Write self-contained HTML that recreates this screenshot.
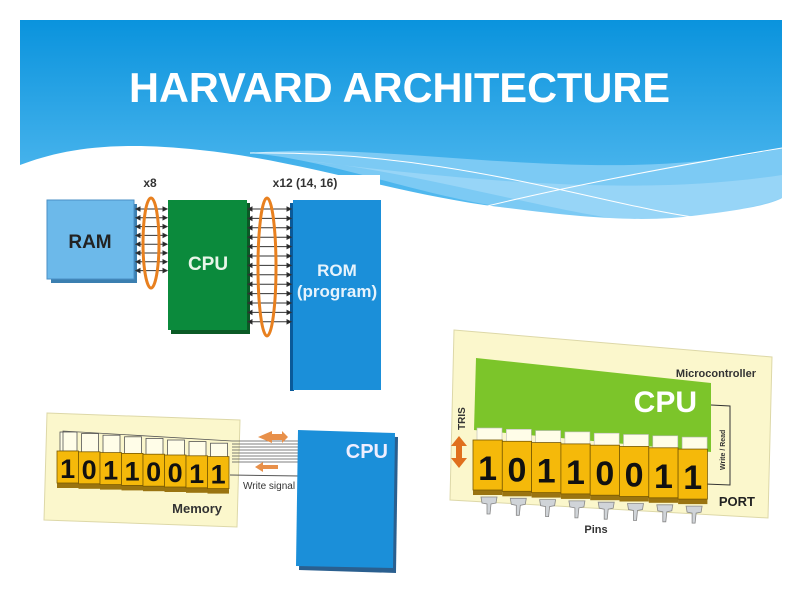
<!DOCTYPE html>
<html><head><meta charset="utf-8"><style>
html,body{margin:0;padding:0;width:800px;height:600px;overflow:hidden;background:#fff}
svg{display:block;font-family:"Liberation Sans",Arial,sans-serif}
</style></head><body>
<svg id="s" width="800" height="600" viewBox="0 0 800 600" xmlns="http://www.w3.org/2000/svg">
<defs>
<linearGradient id="bg" x1="0" y1="0" x2="0" y2="1">
<stop offset="0" stop-color="#0a93dd"/><stop offset="1" stop-color="#5fc0f2"/>
</linearGradient>
</defs>
<rect x="20" y="20" width="762" height="210" fill="url(#bg)"/>
<path d="M250,153 C400,140 600,190 782,148 L782,198 C700,225 600,225 500,207 C400,190 330,160 250,153Z" fill="#7ccaf4"/>
<path d="M300,160 C450,175 600,230 700,225 C740,220 770,205 782,198 L782,175 C650,195 500,185 300,160Z" fill="#9dd7f7" opacity="0.8"/>
<path d="M20,165 C60,150 110,140 200,150 C300,160 400,195 500,207 C600,220 650,222 700,215 C740,210 770,205 782,198 L782,240 L20,240Z" fill="#fff"/>
<path d="M250,153 C450,150 600,205 700,218" stroke="#fff" stroke-width="1" fill="none"/>
<path d="M450,215 C550,190 650,170 782,148" stroke="#fff" stroke-width="1" fill="none"/>
<text x="129" y="102" textLength="541" lengthAdjust="spacingAndGlyphs" font-size="42" font-weight="bold" fill="#fff">HARVARD ARCHITECTURE</text>

<!-- diagram 1 -->
<rect x="40" y="175" width="340" height="215" fill="#fff"/>
<text x="150" y="187" text-anchor="middle" font-size="12" font-weight="bold" fill="#333">x8</text>
<text x="305" y="187" text-anchor="middle" font-size="12" font-weight="bold" fill="#333">x12 (14, 16)</text>
<polygon points="51,204 137,204 137,283 51,283" fill="#3b7fb0"/>
<rect x="47" y="200" width="87" height="79" fill="#6cb9ea" stroke="#4a8fc5"/>
<text x="90" y="248" text-anchor="middle" font-size="19" font-weight="bold" fill="#222">RAM</text>
<rect x="171" y="203" width="79" height="131" fill="#0a5a25"/>
<rect x="168" y="200" width="79" height="130" fill="#0b8a3c"/>
<text x="208" y="270" text-anchor="middle" font-size="19" font-weight="bold" fill="#e8f5e8">CPU</text>
<rect x="290" y="203" width="4" height="188" fill="#0a5a9a"/>
<rect x="293" y="200" width="88" height="190" fill="#1b8fd9"/>
<text x="337" y="276" text-anchor="middle" font-size="17" font-weight="bold" fill="#e6f3fc">ROM</text>
<text x="337" y="297" text-anchor="middle" font-size="17" font-weight="bold" fill="#e6f3fc">(program)</text>
<g id="lines1" stroke="#333" stroke-width="1"></g>
<ellipse cx="151" cy="243" rx="8" ry="45" fill="none" stroke="#e8801f" stroke-width="3"/>
<ellipse cx="267" cy="267" rx="9" ry="69" fill="none" stroke="#e8801f" stroke-width="3"/>

<!-- diagram 3 -->
<polygon points="47,413 240,420 237,527 44,520" fill="#fbf7cc" stroke="#ddd8a8"/>
<g id="mem"></g>
<text x="222" y="513" text-anchor="end" font-size="13" font-weight="bold" fill="#333">Memory</text>
<g stroke="#555" stroke-width="0.8" id="bus3"></g>
<polygon points="258,437 272,431 272,434 282,434 282,431 288,437 282,443 282,440 272,440 272,443" fill="#e8904a"/>
<polygon points="255,467 263,462 263,465 278,465 278,469 263,469 263,472" fill="#e8904a"/>
<line x1="230" y1="475" x2="300" y2="476" stroke="#555"/>
<text x="243" y="489" font-size="10" fill="#333">Write signal</text>
<polygon points="301,434 398,437 396,573 299,570" fill="#2a5f8f"/>
<polygon points="298,430 395,433 393,568 296,566" fill="#1b8fd9"/>
<text x="388" y="458" text-anchor="end" font-size="20" font-weight="bold" fill="#eef">CPU</text>

<!-- diagram 2 -->
<polygon points="454,330 772,357 768,518 450,500" fill="#fbf7cc" stroke="#ddd8a8"/>
<polygon points="476,358 711,383 711,452 474,430" fill="#7cc52a"/>
<text x="697" y="412" text-anchor="end" font-size="30" font-weight="bold" fill="#fff">CPU</text>
<text x="756" y="377" text-anchor="end" font-size="11" font-weight="bold" fill="#333">Microcontroller</text>
<path d="M711,405 L730,406 L730,485 L705,484" fill="none" stroke="#333"/>
<text transform="translate(725,470) rotate(-90)" font-size="7" font-weight="bold" fill="#333">Write / Read</text>
<text transform="translate(465,430) rotate(-90)" font-size="10" font-weight="bold" fill="#333">TRIS</text>
<polygon points="459,436 467,446 462,446 462,458 467,458 459,468 451,458 456,458 456,446 451,446" fill="#e0701e"/>
<g id="port"></g>
<text x="755" y="506" text-anchor="end" font-size="13" font-weight="bold" fill="#222">PORT</text>
<text x="596" y="533" text-anchor="middle" font-size="11" font-weight="bold" fill="#333">Pins</text>
</svg>
<script>
var NS="http://www.w3.org/2000/svg";
function el(p,t,a,txt){var e=document.createElementNS(NS,t);for(var k in a)e.setAttribute(k,a[k]);if(txt)e.textContent=txt;document.getElementById(p).appendChild(e);return e;}
for(var i=0;i<8;i++){var y=209+i*8.8;el("lines1","line",{x1:136,y1:y,x2:167,y2:y});
el("lines1","polygon",{points:"136,"+y+" 140,"+(y-2)+" 140,"+(y+2),fill:"#222"});
el("lines1","polygon",{points:"167,"+y+" 163,"+(y-2)+" 163,"+(y+2),fill:"#222"});}
for(var i=0;i<13;i++){var y=209+i*9.4;el("lines1","line",{x1:248,y1:y,x2:291,y2:y});
el("lines1","polygon",{points:"248,"+y+" 252,"+(y-2)+" 252,"+(y+2),fill:"#222"});
el("lines1","polygon",{points:"291,"+y+" 287,"+(y-2)+" 287,"+(y+2),fill:"#222"});}
var bits="10110011";
for(var i=0;i<8;i++){var x=57+i*21.5,y=451+i*0.8;
el("mem","rect",{x:x+3,y:y-19+i*0.8,width:17,height:19,fill:"#fffde8",stroke:"#555","stroke-width":0.8});
el("mem","rect",{x:x,y:y+32,width:21.5,height:5,fill:"#9a7410"});
el("mem","rect",{x:x,y:y,width:21.5,height:32,fill:"#f5b90a",stroke:"#7a5a00","stroke-width":0.8});
el("mem","text",{x:x+10.7,y:y+27,"text-anchor":"middle","font-size":27,"font-weight":"bold",fill:"#111"},bits[i]);}
for(var k=0;k<8;k++){el("bus3","line",{x1:232,y1:441+k*3,x2:300,y2:441+k*3});}
el("bus3","polyline",{points:"63,451 63,431 232,441",fill:"none"});
for(var i=0;i<8;i++){var x=473+i*29.3,y=440+i*1.3;
el("port","rect",{x:x+4,y:y-12,width:25,height:12,fill:"#fffde8",stroke:"#bbb","stroke-width":0.6});
el("port","rect",{x:x,y:y+50,width:29.3,height:5,fill:"#9a7410"});
el("port","rect",{x:x,y:y,width:29.3,height:50,fill:"#f5b90a",stroke:"#7a5a00","stroke-width":0.8});
el("port","text",{x:x+14.6,y:y+40,"text-anchor":"middle","font-size":34,"font-weight":"bold",fill:"#111"},bits[i]);
var px=x+8,py=y+57;
el("port","polygon",{points:px+","+py+" "+(px+16)+","+py+" "+(px+15)+","+(py+6)+" "+(px+10)+","+(py+7)+" "+(px+9)+","+(py+17)+" "+(px+6)+","+(py+17)+" "+(px+6)+","+(py+7)+" "+(px+1)+","+(py+6),fill:"#d0d4d8",stroke:"#888","stroke-width":0.8});}
</script>
</body></html>
